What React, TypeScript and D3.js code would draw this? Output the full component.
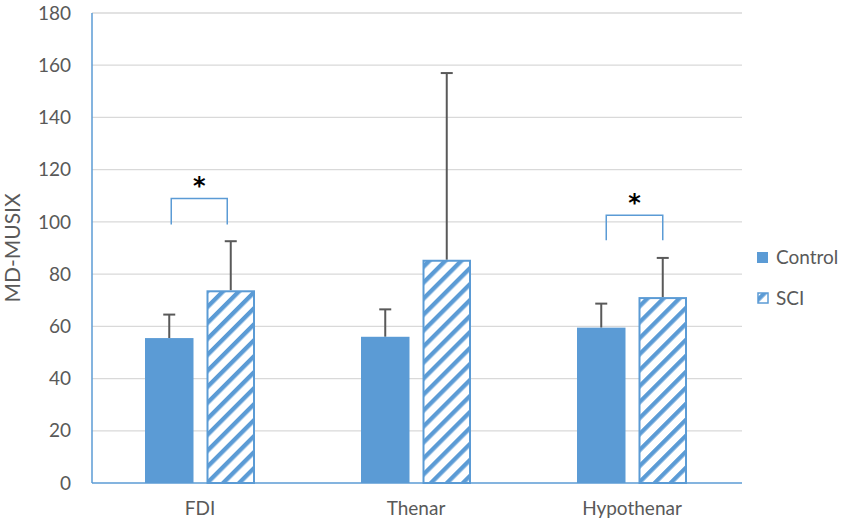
import React from "react";
import { scaleBand, scaleLinear } from "d3";

const categories = ["FDI", "Thenar", "Hypothenar"];
const controlMeans = [55.5, 56, 59.5];
const controlErr = [9, 10.5, 9.2];
const sciMeans = [73.8, 85.5, 71.2];
const sciErr = [18.8, 71.5, 15];
const yTicks = [0, 20, 40, 60, 80, 100, 120, 140, 160, 180];
// significance brackets: [category index, top value, leg bottom value, left inset, right inset]
const brackets: [number, number, number, number, number][] = [
  [0, 109, 99, 2, 3.5],
  [2, 102.5, 93, 5, 0],
];

const W = 850;
const H = 528;
const margin = { left: 92, right: 110, top: 13, bottom: 45 };
const blue = "#5B9BD5";
const grey = "#595959";
const font = "Lato, 'Open Sans', sans-serif";

export default function App() {
  const x = scaleBand<string>()
    .domain(categories)
    .range([margin.left, W - margin.right])
    .paddingInner(0)
    .paddingOuter(0);
  const y = scaleLinear().domain([0, 180]).range([H - margin.bottom, margin.top]);
  const barW = 48.5;
  const gap = 13;
  const ctrlX = (i: number) => x(categories[i])! + x.bandwidth() / 2 - gap / 2 - barW;
  const sciX = (i: number) => x(categories[i])! + x.bandwidth() / 2 + gap / 2;
  const cap = 6;

  return (
    <div style={{ position: "absolute", left: 0, top: 0 }}>
      <svg width={W} height={H} style={{ display: "block", background: "#fff" }}>
        <defs>
          <pattern
            id="hatch"
            patternUnits="userSpaceOnUse"
            width={11.3}
            height={11.3}
            patternTransform="rotate(45)"
          >
            <rect width={11.3} height={11.3} fill="#fff" />
            <rect x={0} y={0} width={4.3} height={11.3} fill={blue} />
          </pattern>
        </defs>
        {yTicks.map((t) => (
          <g key={t}>
            {t > 0 && (
              <line x1={margin.left} x2={W - margin.right + 2} y1={y(t)} y2={y(t)} stroke="#D9D9D9" strokeWidth={1.3} />
            )}
            <text x={71} y={y(t)} dy="0.35em" textAnchor="end" fontFamily={font} fontSize={19} fill={grey}>
              {t}
            </text>
          </g>
        ))}
        <line x1={margin.left} x2={margin.left} y1={y(180)} y2={y(0)} stroke={blue} strokeWidth={1.5} />
        <line x1={margin.left} x2={W - margin.right + 2} y1={y(0)} y2={y(0)} stroke={blue} strokeWidth={1.5} />

        {categories.map((c, i) => (
          <g key={c}>
            <line x1={ctrlX(i) + barW / 2} x2={ctrlX(i) + barW / 2} y1={y(controlMeans[i])} y2={y(controlMeans[i] + controlErr[i])} stroke={grey} strokeWidth={2} />
            <line x1={ctrlX(i) + barW / 2 - cap} x2={ctrlX(i) + barW / 2 + cap} y1={y(controlMeans[i] + controlErr[i])} y2={y(controlMeans[i] + controlErr[i])} stroke={grey} strokeWidth={2} />
            <line x1={sciX(i) + barW / 2} x2={sciX(i) + barW / 2} y1={y(sciMeans[i])} y2={y(sciMeans[i] + sciErr[i])} stroke={grey} strokeWidth={2} />
            <line x1={sciX(i) + barW / 2 - cap} x2={sciX(i) + barW / 2 + cap} y1={y(sciMeans[i] + sciErr[i])} y2={y(sciMeans[i] + sciErr[i])} stroke={grey} strokeWidth={2} />
            <rect x={ctrlX(i)} y={y(controlMeans[i])} width={barW} height={y(0) - y(controlMeans[i])} fill={blue} />
            <rect x={sciX(i) + 1} y={y(sciMeans[i]) + 1} width={barW - 2} height={y(0) - y(sciMeans[i]) - 1} fill="url(#hatch)" stroke={blue} strokeWidth={2} />
            <text x={x(c)! + x.bandwidth() / 2} y={H - 13} textAnchor="middle" fontFamily={font} fontSize={19} fill={grey}>
              {c}
            </text>
          </g>
        ))}

        {brackets.map(([i, top, bottom, li, ri]) => {
          const l = ctrlX(i) + barW / 2 + li;
          const r = sciX(i) + barW / 2 - ri;
          return (
            <g key={i}>
              <path d={`M${l},${y(bottom)}V${y(top)}H${r}V${y(bottom)}`} fill="none" stroke={blue} strokeWidth={1.5} />
              <text x={(l + r) / 2} y={y(top) - 4} textAnchor="middle" fontFamily="'DejaVu Sans', sans-serif" fontWeight="bold" fontSize={24} fill="#000">
                *
              </text>
            </g>
          );
        })}

        <text transform={`translate(20,${(y(0) + y(180)) / 2}) rotate(-90)`} textAnchor="middle" fontFamily={font} fontSize={21} fill={grey}>
          MD-MUSIX
        </text>

        <rect x={757} y={252} width={11} height={11} fill={blue} />
        <text x={776} y={257.5} dy="0.35em" fontFamily={font} fontSize={19} fill={grey}>Control</text>
        <rect x={758} y={293} width={10} height={10} fill="url(#hatch)" stroke={blue} strokeWidth={1.5} />
        <text x={776} y={298.5} dy="0.35em" fontFamily={font} fontSize={19} fill={grey}>SCI</text>
      </svg>
    </div>
  );
}
